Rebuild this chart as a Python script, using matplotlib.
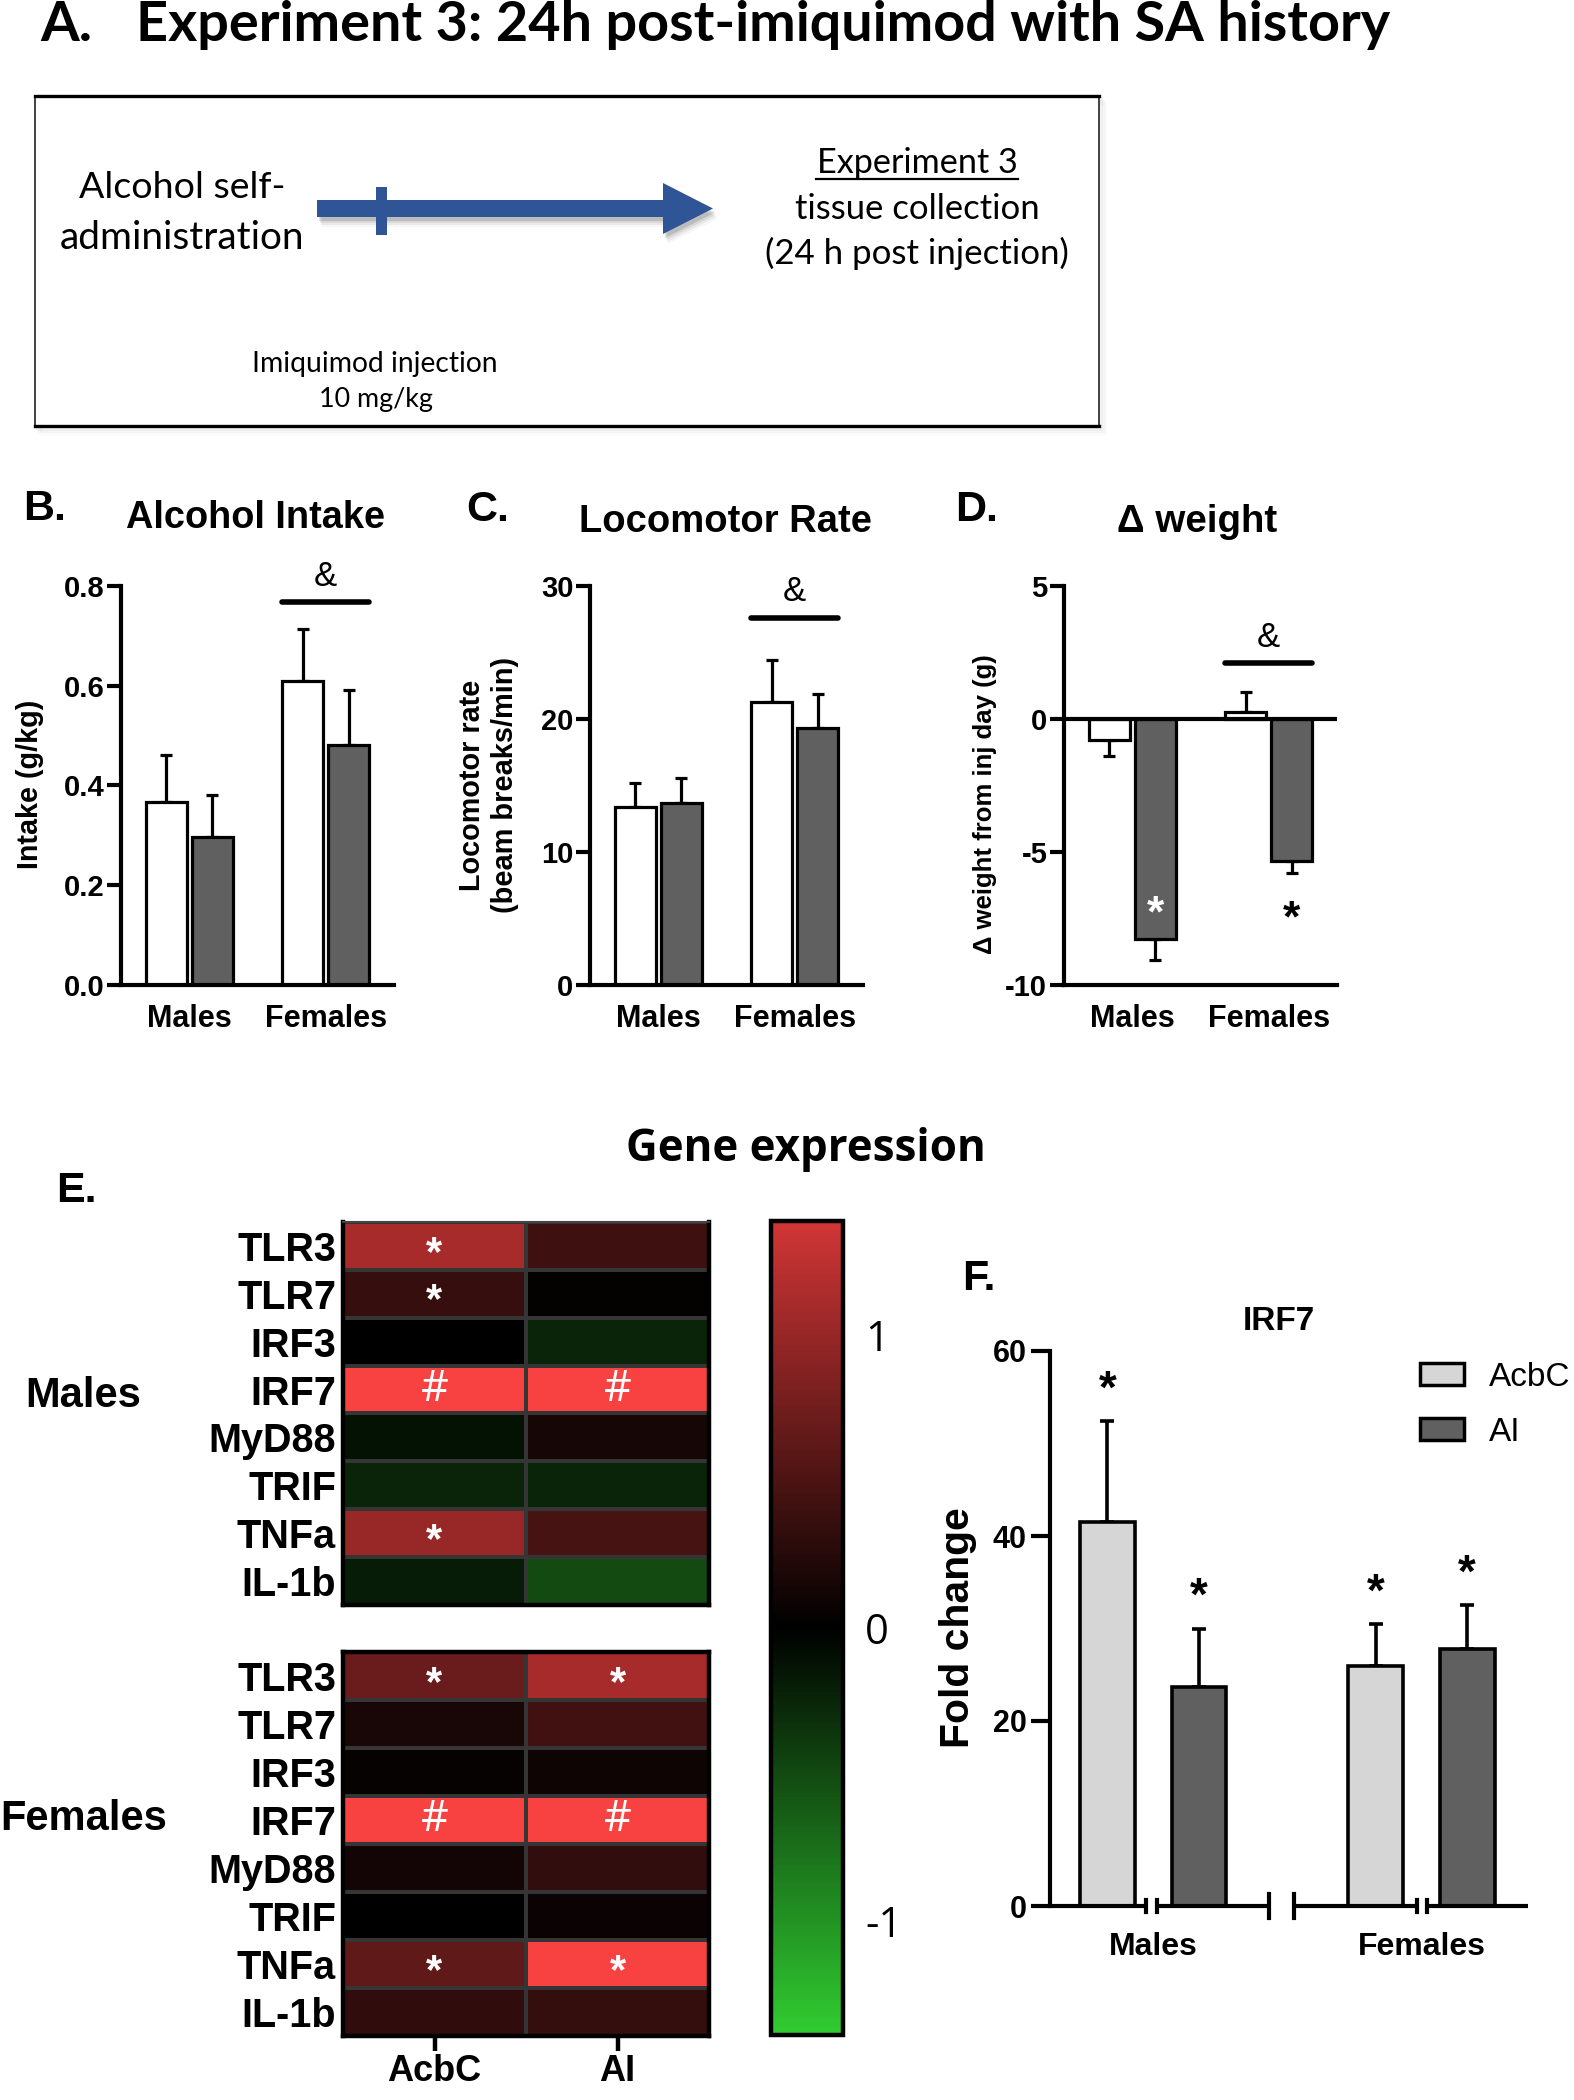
import matplotlib
matplotlib.use('Agg')
import matplotlib.pyplot as plt
import numpy as np
from matplotlib.colors import LinearSegmentedColormap, Normalize
from matplotlib.patches import Rectangle, Polygon, Patch
from matplotlib.cm import ScalarMappable

plt.rcParams['axes.unicode_minus'] = False
plt.rcParams['font.family'] = ['Liberation Sans', 'DejaVu Sans']

# ------------------------------------------------------------------ data
sex_groups = ['Males', 'Females']
# B: alcohol intake (g/kg)
intake_white = [0.366, 0.609]
intake_white_err = [0.096, 0.104]
intake_dark = [0.297, 0.482]
intake_dark_err = [0.083, 0.109]
# C: locomotor rate
loco_white = [13.4, 21.3]
loco_white_err = [1.8, 3.1]
loco_dark = [13.7, 19.3]
loco_dark_err = [1.9, 2.6]
# D: delta weight
weight_white = [-0.79, 0.25]
weight_white_err = [0.61, 0.78]
weight_dark = [-8.26, -5.34]
weight_dark_err = [0.79, 0.45]

# E: heatmap
genes = ['TLR3', 'TLR7', 'IRF3', 'IRF7', 'MyD88', 'TRIF', 'TNFa', 'IL-1b']
regions = ['AcbC', 'AI']
heat_males_acbc = [1.11, 0.36, 0.00, 1.60, -0.12, -0.24, 1.00, -0.19]
heat_males_ai = [0.41, 0.03, -0.24, 1.60, 0.15, -0.24, 0.46, -0.50]
heat_females_acbc = [0.70, 0.17, 0.05, 1.60, 0.12, 0.01, 0.63, 0.32]
heat_females_ai = [1.11, 0.43, 0.09, 1.60, 0.33, 0.07, 1.45, 0.34]
marks_males_acbc = ['*', '*', '', '#', '', '', '*', '']
marks_males_ai = ['', '', '', '#', '', '', '', '']
marks_females_acbc = ['*', '', '', '#', '', '', '*', '']
marks_females_ai = ['*', '', '', '#', '', '', '*', '']

# F: IRF7 fold change
irf7_acbc = [41.5, 25.9]
irf7_acbc_err = [10.9, 4.6]
irf7_ai = [23.7, 27.8]
irf7_ai_err = [6.3, 4.7]

# ------------------------------------------------------------------ figure
W, H = 1574, 2100
fig = plt.figure(figsize=(W / 100, H / 100), dpi=100)
renderer = fig.canvas.get_renderer()


def axpx(x0, y0, x1, y1, **kw):
    return fig.add_axes([x0 / W, 1 - y1 / H, (x1 - x0) / W, (y1 - y0) / H], **kw)


ov = fig.add_axes([0, 0, 1, 1], zorder=-1)
ov.set_xlim(0, W)
ov.set_ylim(H, 0)
ov.axis('off')


def fit(t, target, vertical=False):
    bb = t.get_window_extent(renderer)
    cur = bb.height if vertical else bb.width
    t.set_fontsize(t.get_fontsize() * target / cur)
    return t


def otext(x, y, s, target=None, vertical=False, **kw):
    kw.setdefault('ha', 'center')
    kw.setdefault('va', 'center')
    kw.setdefault('fontsize', 20)
    t = ov.text(x, y, s, rotation=90 if vertical else 0, **kw)
    if target is not None:
        fit(t, target, vertical)
    return t

# ------------------------------------------------------------------ panel A
calibri = ['Lato', 'DejaVu Sans']
ttl = otext(136, 41, 'Experiment 3: 24h post-imiquimod with SA history', target=1257,
            ha='left', va='baseline', family=calibri, weight='bold')
otext(40, 41, 'A.', ha='left', va='baseline', family=calibri, weight='bold',
      fontsize=ttl.get_fontsize())

# box with soft shadow
for k, a in enumerate([0.10, 0.07, 0.04]):
    ov.add_patch(Rectangle((35 + 2 + 2 * k, 96 + 3 + 2 * k), 1064, 330, facecolor='none',
                           edgecolor='gray', lw=2, alpha=a))
ov.add_patch(Rectangle((35, 96), 1064, 330, facecolor='white', edgecolor='#333333', lw=1.3))
ov.plot([35, 1099], [96, 96], color='black', lw=2.4)
ov.plot([35, 1099], [426, 426], color='black', lw=2.4)

otext(182, 188, 'Alcohol self-', target=206, family=calibri)
otext(182, 238, 'administration', target=245, family=calibri)
otext(917, 163, 'Experiment 3', target=202, family=calibri)
ov.plot([816, 1018], [179, 179], color='black', lw=1.6)
otext(917, 209, 'tissue collection', target=245, family=calibri)
otext(917, 253, '(24 h post injection)', target=304, family=calibri)
otext(375, 364, 'Imiquimod injection', target=246, family=calibri)
otext(376, 400, '10 mg/kg', target=114, family=calibri)

# arrow with shadow
arrow_col = '#2F5597'
shaft = [(317, 200), (663, 200), (663, 183), (713, 208.5), (663, 234), (663, 217), (317, 217)]
cross = [(376, 187), (387, 187), (387, 235), (376, 235)]
for k, a in enumerate([0.12, 0.08, 0.05, 0.03]):
    off = 4 + 2 * k
    ov.add_patch(Polygon([(x + off * 0.5, y + off) for x, y in shaft], closed=True,
                         facecolor='black', edgecolor='none', alpha=a))
ov.add_patch(Polygon(shaft, closed=True, facecolor=arrow_col, edgecolor='none'))
ov.add_patch(Polygon(cross, closed=True, facecolor=arrow_col, edgecolor='none'))

# ------------------------------------------------------------------ panels B-D
OFF, BW = 0.168, 0.30
DARK = '#606060'


def asym(vals, errs):
    lo = [e if v < 0 else 0 for v, e in zip(vals, errs)]
    hi = [0 if v < 0 else e for v, e in zip(vals, errs)]
    return [lo, hi]


def bar_panel(x0, white, werr, dark, derr, ylim, yticks, yticklabels):
    ax = axpx(x0, 586, x0 + 273, 985)
    ax.set_facecolor('none')
    x = np.arange(len(sex_groups))
    ax.bar(x - OFF, white, BW, color='white', edgecolor='black', lw=2.3, zorder=2)
    ax.bar(x + OFF, dark, BW, color=DARK, edgecolor='black', lw=2.3, zorder=2)
    ax.errorbar(x - OFF, white, yerr=asym(white, werr), fmt='none', ecolor='black',
                elinewidth=2.3, capsize=4.5, capthick=2.3, zorder=1)
    ax.errorbar(x + OFF, dark, yerr=asym(dark, derr), fmt='none', ecolor='black',
                elinewidth=2.3, capsize=4.5, capthick=2.3, zorder=1)
    ax.set_xlim(-0.5, 1.5)
    ax.set_ylim(*ylim)
    for s in ['top', 'right']:
        ax.spines[s].set_visible(False)
    for s in ['left', 'bottom']:
        ax.spines[s].set_linewidth(3)
    ax.set_yticks(yticks)
    ax.set_yticklabels(yticklabels, fontsize=21, weight='bold')
    ax.tick_params(axis='y', length=10, width=3, pad=2)
    ax.set_xticks(x)
    ax.set_xticklabels(sex_groups, fontsize=22, weight='bold')
    ax.tick_params(axis='x', length=0, pad=14)
    return ax


def sig(ax, ybar, yamp):
    ax.plot([1 - OFF - BW / 2, 1 + OFF + BW / 2], [ybar, ybar], color='black', lw=4,
            solid_capstyle='round', clip_on=False)
    ax.text(1, yamp, '&', ha='center', va='center', fontsize=25, clip_on=False)


axB = bar_panel(121, intake_white, intake_white_err, intake_dark, intake_dark_err,
                (0, 0.8), [0, 0.2, 0.4, 0.6, 0.8], ['0.0', '0.2', '0.4', '0.6', '0.8'])
sig(axB, 0.767, 0.82)
axC = bar_panel(590, loco_white, loco_white_err, loco_dark, loco_dark_err,
                (0, 30), [0, 10, 20, 30], ['0', '10', '20', '30'])
sig(axC, 27.6, 29.6)
axD = bar_panel(1064, weight_white, weight_white_err, weight_dark, weight_dark_err,
                (-10, 5), [-10, -5, 0, 5], ['-10', '-5', '0', '5'])
axD.axhline(0, color='black', lw=3, zorder=3)
sig(axD, 2.1, 3.07)
axD.text(0 + OFF, weight_dark[0] + 0.9, '*', color='white', ha='center', va='center',
         fontsize=32, weight='bold')
axD.text(1 + OFF, weight_dark[1] - weight_dark_err[1] - 1.75, '*', color='black',
         ha='center', va='center', fontsize=32, weight='bold')

otext(23, 509, 'B.', ha='left', fontsize=31, weight='bold')
otext(256, 518, 'Alcohol Intake', target=259, weight='bold')
otext(466, 510, 'C.', ha='left', fontsize=31, weight='bold')
otext(725, 522, 'Locomotor Rate', target=292, weight='bold')
otext(955, 510, 'D.', ha='left', fontsize=31, weight='bold')
otext(1197, 522, '\u0394 weight', target=160, weight='bold')

otext(30, 784, 'Intake (g/kg)', target=169, vertical=True, weight='bold')
otext(472, 785, 'Locomotor rate', target=211, vertical=True, weight='bold')
otext(505, 785, '(beam breaks/min)', target=256, vertical=True, weight='bold')
otext(985, 804, '\u0394 weight from inj day (g)', target=300, vertical=True, weight='bold')

# ------------------------------------------------------------------ panel E
VMAX = 1.39
cmap = LinearSegmentedColormap.from_list(
    'gkr', [(0.0, (0.19, 0.80, 0.19)), (0.5, (0.0, 0.0, 0.0)), (1.0, (0.82, 0.21, 0.21))])
cmap.set_over('#F84141')
norm = Normalize(-VMAX, VMAX)


def heat(y0, y1, c1, c2, m1, m2, top_black, show_x):
    ax = axpx(343, y0, 709, y1)
    data = np.column_stack([c1, c2])
    ax.pcolormesh(data, cmap=cmap, norm=norm, edgecolors='#353535', linewidth=1.6)
    ax.set_xlim(0, 2)
    ax.set_ylim(len(genes), 0)
    ax.set_yticks(np.arange(len(genes)) + 0.5)
    ax.set_yticklabels(genes, fontsize=28.5, weight='bold')
    ax.tick_params(axis='y', length=0, pad=5)
    for s in ['left', 'right', 'bottom']:
        ax.spines[s].set_linewidth(3.2)
    if top_black:
        ax.spines['top'].set_linewidth(3.2)
    else:
        ax.spines['top'].set_linewidth(1.5)
        ax.spines['top'].set_color('#444444')
    if show_x:
        ax.set_xticks([0.5, 1.5])
        ax.set_xticklabels(regions, fontsize=26, weight='bold')
        ax.tick_params(axis='x', length=11, width=3.2, pad=2)
    else:
        ax.set_xticks([])
    for j, marks in enumerate([m1, m2]):
        for i, mk in enumerate(marks):
            if mk == '*':
                ax.text(j + 0.5, i + 0.66, mk, color='white', ha='center', va='center',
                        fontsize=30, weight='bold')
            elif mk == '#':
                ax.text(j + 0.5, i + 0.5, mk, color='white', ha='center', va='center',
                        fontsize=31, family=['Open Sans', 'DejaVu Sans'])
    return ax


heat(1222, 1605, heat_males_acbc, heat_males_ai, marks_males_acbc, marks_males_ai, False, False)
heat(1652, 2036, heat_females_acbc, heat_females_ai, marks_females_acbc, marks_females_ai, True, True)

cax = axpx(771, 1221, 843, 2035)
cb = fig.colorbar(ScalarMappable(norm=norm, cmap=cmap), cax=cax)
cb.outline.set_linewidth(3.2)
cb.set_ticks([-1, 0, 1])
cb.set_ticklabels(['-1', '0', '1'])
cb.set_ticks([-1, 1], minor=True)
cax.tick_params(which='major', length=0, pad=16, labelsize=30)
cax.tick_params(which='minor', direction='in', left=True, right=True, length=7, width=3)
for lab in cax.get_yticklabels():
    lab.set_family(['Open Sans', 'DejaVu Sans'])

otext(806, 1149, 'Gene expression', target=360, weight='bold', family=['Open Sans', 'DejaVu Sans'])
otext(56, 1191, 'E.', ha='left', fontsize=31, weight='bold')
otext(25, 1396, 'Males', ha='left', fontsize=30, weight='bold')
otext(0, 1819, 'Females', ha='left', fontsize=30, weight='bold')

# ------------------------------------------------------------------ panel F
GROUP_GAP = 2.932
axF = axpx(1050, 1351, 1528, 1906)
axF.set_facecolor('none')
gx = np.arange(len(sex_groups)) * GROUP_GAP
FW = 0.596
LIGHT = '#D6D6D6'
axF.bar(gx - 0.5, irf7_acbc, FW, color=LIGHT, edgecolor='black', lw=2.6, zorder=2, label='AcbC')
axF.bar(gx + 0.5, irf7_ai, FW, color=DARK, edgecolor='black', lw=2.6, zorder=2, label='AI')
axF.errorbar(gx - 0.5, irf7_acbc, yerr=[[0, 0], irf7_acbc_err], fmt='none', ecolor='black',
             elinewidth=2.6, capsize=5, capthick=2.6, zorder=1)
axF.errorbar(gx + 0.5, irf7_ai, yerr=[[0, 0], irf7_ai_err], fmt='none', ecolor='black',
             elinewidth=2.6, capsize=5, capthick=2.6, zorder=1)
for xs, m, e in [(gx - 0.5, irf7_acbc, irf7_acbc_err), (gx + 0.5, irf7_ai, irf7_ai_err)]:
    for xi, mi, ei in zip(xs, m, e):
        axF.text(xi, mi + ei + 3.3, '*', ha='center', va='center', fontsize=33, weight='bold')
axF.set_xlim(-1.128, 4.096)
axF.set_ylim(0, 60)
for s in ['top', 'right', 'bottom']:
    axF.spines[s].set_visible(False)
axF.spines['left'].set_linewidth(3)
axF.set_yticks([0, 20, 40, 60])
axF.set_yticklabels(['0', '20', '40', '60'], fontsize=22, weight='bold')
axF.tick_params(axis='y', length=14, width=3, pad=3)
axF.set_xticks(gx)
axF.set_xticklabels(sex_groups, fontsize=23, weight='bold')
axF.tick_params(axis='x', length=0, pad=19)
# broken x axis
segs = [(-1.128, -0.077), (0.037, 1.269), (1.535, 2.881), (2.987, 4.096)]
for a, b in segs:
    axF.plot([a, b], [0, 0], color='black', lw=3, clip_on=False, solid_capstyle='butt')
for xt, h in [(-0.077, 0.6), (0.037, 0.6), (1.269, 1.25), (1.535, 1.25), (2.881, 0.6), (2.987, 0.6)]:
    axF.plot([xt, xt], [-h, h], color='black', lw=3, clip_on=False)
leg = axF.legend(handles=[Patch(facecolor=LIGHT, edgecolor='black', lw=2.5, label='AcbC'),
                          Patch(facecolor=DARK, edgecolor='black', lw=2.5, label='AI')],
                 loc='upper left', bbox_to_anchor=((1420 - 1050) / 478, (1906 - 1362) / 555),
                 frameon=False, fontsize=24, handlelength=1.33, handleheight=0.64,
                 handletextpad=0.75, labelspacing=0.72, borderpad=0, borderaxespad=0)

otext(962, 1279, 'F.', ha='left', fontsize=31, weight='bold')
otext(1279, 1322, 'IRF7', fontsize=24, weight='bold')
otext(958, 1628, 'Fold change', target=241, vertical=True, weight='bold')

fig.savefig('out.png', dpi=100)
